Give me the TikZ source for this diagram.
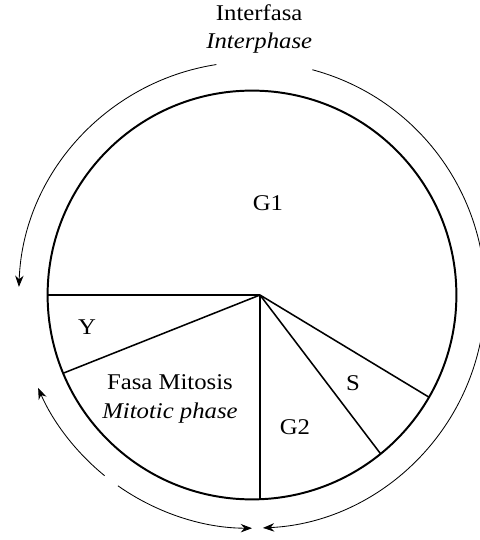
\documentclass[tikz,border=0pt]{standalone}
\usepackage{fontspec}
\setmainfont[FakeStretch=1.1]{Liberation Serif}
\usetikzlibrary{arrows.meta}

\begin{document}
\begin{tikzpicture}[
    seta/.style={line width=0.6pt, -{Stealth[length=8pt,width=6pt]}},
    raio/.style={line width=1.1pt},
    rotulo/.style={font=\fontsize{16}{20}\selectfont, align=center}
]

    % dimensões principais
    \def\R{5.11}      % raio do ciclo
    \def\Ro{5.83}     % raio das setas externas
    \def\hx{0.2}      % centro dos raios

    % área da figura
    \useasboundingbox (-6.3,-6.125) rectangle (5.7,7.375);

    % círculo do ciclo
    \draw[line width=1.4pt] (0,0) circle (\R);

    % raios das fases
    \coordinate (hub) at (\hx,0);
    \draw[raio] (hub) -- (180:\R);
    \draw[raio] (hub) -- (202.5:\R);
    \draw[raio] (hub) -- (272.24:\R);
    \draw[raio] (hub) -- (309:\R);
    \draw[raio] (hub) -- (330:\R);

    % setas da interfase
    \draw[seta] (98.8:\Ro) arc[start angle=98.8, end angle=178, radius=\Ro];
    \draw[seta] (75:\Ro) arc[start angle=75, end angle=-87.3, radius=\Ro];

    % setas da mitose
    \draw[seta] (230.8:\Ro) arc[start angle=230.8, end angle=203.5, radius=\Ro];
    \draw[seta] (234.9:\Ro) arc[start angle=234.9, end angle=270, radius=\Ro];

    % rótulos
    \node[rotulo] (interfase) at (0.18,6.65) {Interfasa\\\textit{Interphase}};
    \node[rotulo] (g1) at (0.4,2.3) {G1};
    \node[rotulo] (y) at (-4.125,-0.8) {Y};
    \node[rotulo] (mitose) at (-2.05,-2.6) {Fasa Mitosis\\\textit{Mitotic phase}};
    \node[rotulo] (s) at (2.525,-2.2) {S};
    \node[rotulo] (g2) at (1.075,-3.3) {G2};

\end{tikzpicture}
\end{document}
